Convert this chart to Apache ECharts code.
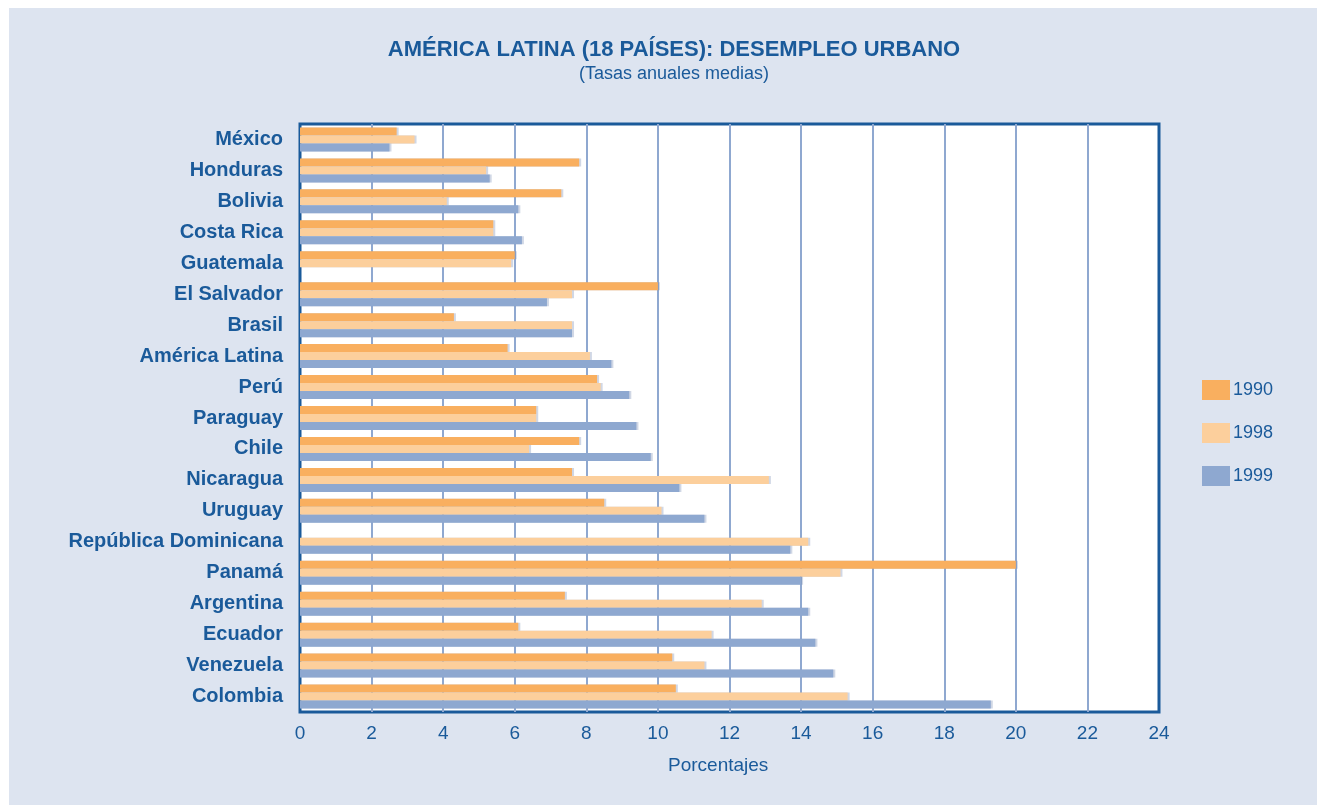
<!DOCTYPE html>
<html lang="es">
<head>
<meta charset="UTF-8">
<title>Desempleo urbano</title>
<script src="https://cdn.jsdelivr.net/npm/echarts@6/dist/echarts.min.js"></script>
<style>
  html, body { margin: 0; padding: 0; background: #ffffff; }
  #frame { position: absolute; left: 9px; top: 8px; width: 1308px; height: 797px; background: #dde4f0; }
  #chart { position: absolute; left: -9px; top: -8px; width: 1317px; height: 805px; }
</style>
</head>
<body>
<div id="frame"><div id="chart"></div></div>
<script type="text/javascript">
  // categorias de arriba hacia abajo
  var paises = ['México', 'Honduras', 'Bolivia', 'Costa Rica', 'Guatemala', 'El Salvador', 'Brasil',
    'América Latina', 'Perú', 'Paraguay', 'Chile', 'Nicaragua', 'Uruguay', 'República Dominicana',
    'Panamá', 'Argentina', 'Ecuador', 'Venezuela', 'Colombia'];
  var anios = ['1990', '1998', '1999'];
  var d1990 = [2.7, 7.8, 7.3, 5.4, 6.0, 10.0, 4.3, 5.8, 8.3, 6.6, 7.8, 7.6, 8.5, null, 20.0, 7.4, 6.1, 10.4, 10.5];
  var d1998 = [3.2, 5.2, 4.1, 5.4, 5.9, 7.6, 7.6, 8.1, 8.4, 6.6, 6.4, 13.1, 10.1, 14.2, 15.1, 12.9, 11.5, 11.3, 15.3];
  var d1999 = [2.5, 5.3, 6.1, 6.2, null, 6.9, 7.6, 8.7, 9.2, 9.4, 9.8, 10.6, 11.3, 13.7, 14.0, 14.2, 14.4, 14.9, 19.3];
  var colores = ['#f9af5f', '#fccf9c', '#8ea8d0'];

  var azul = '#1a5a9a';
  var fuente = 'Liberation Sans, Arial, sans-serif';
  var chart = echarts.init(document.getElementById('chart'));

  function serie(nombre, datos, color) {
    return {
      name: nombre,
      type: 'bar',
      data: datos,
      barWidth: 8,
      barGap: '0%',
      itemStyle: {
        color: color,
        shadowColor: 'rgba(120,140,180,0.35)',
        shadowOffsetX: 2,
        shadowBlur: 0
      }
    };
  }

  var option = {
    backgroundColor: 'transparent',
    textStyle: { fontFamily: fuente },
    title: {
      text: 'AMÉRICA LATINA (18 PAÍSES): DESEMPLEO URBANO',
      subtext: '(Tasas anuales medias)',
      left: 669,
      textAlign: 'center',
      top: 34,
      itemGap: 4,
      textStyle: { color: azul, fontSize: 22, fontWeight: 'bold' },
      subtextStyle: { color: azul, fontSize: 18 }
    },
    legend: {
      orient: 'vertical',
      left: 1197,
      top: 375,
      itemWidth: 28,
      itemHeight: 20,
      itemGap: 23,
      icon: 'rect',
      data: anios,
      textStyle: { color: azul, fontSize: 18, padding: [0, 0, 0, -2] }
    },
    grid: {
      left: 300,
      top: 124,
      width: 859,
      height: 588,
      show: true,
      backgroundColor: '#ffffff',
      borderColor: azul,
      borderWidth: 3
    },
    xAxis: {
      type: 'value',
      min: 0,
      max: 24,
      interval: 2,
      axisLine: { show: false },
      axisTick: { show: false },
      axisLabel: { color: azul, fontSize: 19, margin: 12 },
      splitLine: { showMinLine: false, showMaxLine: false, lineStyle: { color: '#8fa8d0', width: 2 } }
    },
    yAxis: {
      type: 'category',
      inverse: true,
      data: paises,
      axisLine: { show: false },
      axisTick: { show: false },
      axisLabel: { color: azul, fontSize: 20, fontWeight: 'bold', margin: 17 }
    },
    graphic: [{
      type: 'text',
      left: 668,
      top: 756,
      style: { text: 'Porcentajes', fill: azul, fontSize: 19, fontFamily: fuente }
    }],
    series: [
      serie(anios[0], d1990, colores[0]),
      serie(anios[1], d1998, colores[1]),
      serie(anios[2], d1999, colores[2])
    ]
  };

  chart.setOption(option);
</script>
</body>
</html>
